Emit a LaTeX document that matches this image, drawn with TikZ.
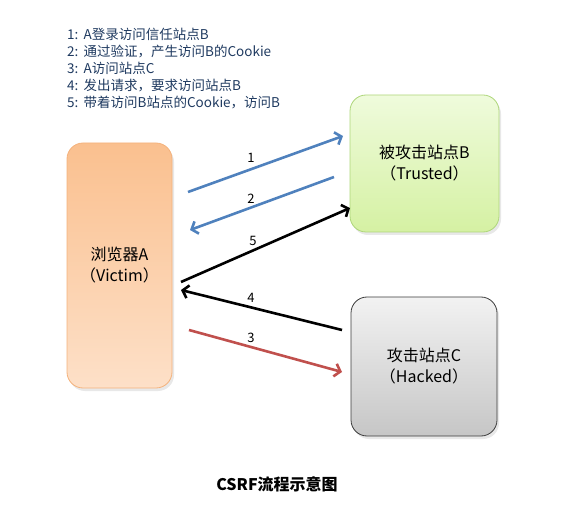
\documentclass[tikz,border=0pt]{standalone}
\usepackage{fontspec}
\setmainfont{Noto Sans CJK SC}
\usepackage{xcolor}
\usepackage{tikz}
\usetikzlibrary{arrows.meta, shadows}
\definecolor{linkblue}{HTML}{4F81BD}
\definecolor{linkred}{HTML}{C0504D}
\definecolor{notenavy}{HTML}{1F3A60}
\definecolor{victimtop}{HTML}{FAC08F}
\definecolor{victimbot}{HTML}{FDE0C8}
\definecolor{victimrim}{HTML}{F4B27C}
\definecolor{trusttop}{HTML}{EFFBDC}
\definecolor{trustbot}{HTML}{D5F1A3}
\definecolor{trustrim}{HTML}{AED67A}
\definecolor{hacktop}{HTML}{F2F2F2}
\definecolor{hackbot}{HTML}{C6C6C6}
\definecolor{hackrim}{HTML}{3C3C3C}

\begin{document}
\begin{tikzpicture}[x=1pt, y=-1pt,
    site/.style={draw, line width=0.8pt, rounded corners=16pt, align=center,
      font=\fontsize{16}{21}\selectfont, inner sep=0pt,
      drop shadow={opacity=0.18, shadow xshift=2pt, shadow yshift=-3pt}},
    link/.style={line width=2.6pt, -{Straight Barb[length=5.5pt, width=13pt]}},
    num/.style={font=\fontsize{13}{15}\selectfont}]
  \useasboundingbox (0,0) rectangle (573,521);
  %% steps of the attack
  \node[anchor=north west, align=left, text=notenavy, inner sep=0pt,
        font=\fontsize{13.5}{17}\selectfont] (steps) at (67,28)
    {1:\ \,A登录访问信任站点B\\
     2:\ \,通过验证，产生访问B的Cookie\\
     3:\ \,A访问站点C\\
     4:\ \,发出请求，要求访问站点B\\
     5:\ \,带着访问B站点的Cookie，访问B};
  %% the three parties
  \node[site, draw=victimrim, top color=victimtop, bottom color=victimbot,
        minimum width=105, minimum height=245] (victim) at (119.5,265.5)
    {浏览器A\\（Victim）};
  \node[site, draw=trustrim, top color=trusttop, bottom color=trustbot,
        minimum width=149, minimum height=137] (trusted) at (424.5,163.5)
    {被攻击站点B\\（Trusted）};
  \node[site, draw=hackrim, top color=hacktop, bottom color=hackbot,
        minimum width=146, minimum height=139] (hacked) at (424,366.5)
    {攻击站点C\\（Hacked）};
  %% requests: number/colour/start/end/label
  \foreach \n/\clr/\sx/\sy/\ex/\ey/\lx/\ly in {
      1/linkblue/188/192/343/136/251/158,
      2/linkblue/334/177/190/230/251/199,
      5/black/181/282/350/208/253/241,
      4/black/342/330/181/290/251/298,
      3/linkred/189/330/342/372/251/338} {
    \coordinate (s\n) at (\sx,\sy);
    \coordinate (e\n) at (\ex,\ey);
    \draw[link, \clr] (s\n) -- (e\n);
    \node[num] (l\n) at (\lx,\ly) {\n};
  }
  \node[font=\fontsize{16}{18}\selectfont\bfseries] (title) at (277,484)
    {CSRF流程示意图};
\end{tikzpicture}
\end{document}
